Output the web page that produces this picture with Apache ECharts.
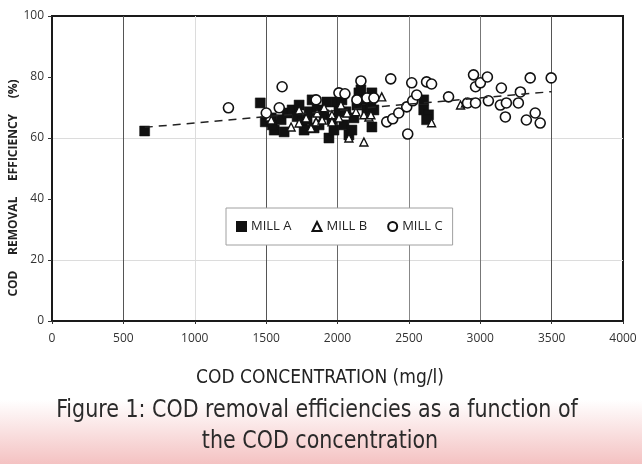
<!DOCTYPE html>
<html><head><meta charset="utf-8">
<script src="https://cdn.jsdelivr.net/npm/echarts@6/dist/echarts.min.js"></script>
<style>html,body{margin:0;padding:0;background:#fff}#c{width:642px;height:464px}</style>
</head><body><div id="c"></div>
<script>
const seriesNames = ['MILL A', 'MILL B', 'MILL C'];
const millA = [
  [649,62.3],[1459,71.5],[1494,65.3],[1536,66.6],[1557,62.6],[1543,64.3],[1605,66],[1626,62.0],
  [1647,68.2],[1682,69.2],[1717,67],[1731,70.8],[1752,65.3],[1766,62.6],[1787,66],[1801,68.6],
  [1822,72.5],[1836,63.3],[1857,69.2],[1871,64.3],[1906,67.6],[1926,71.8],[1940,60.0],[1961,66],
  [1975,62.6],[1996,71.8],[2010,68.6],[2031,72.5],[2045,64.3],[2059,68.6],[2080,61],[2101,62.6],
  [2115,66.6],[2136,70.8],[2150,74.8],[2164,75.8],[2185,72.5],[2206,69.2],[2234,69.9],[2241,74.8],
  [2255,69.2],[2241,63.6],[2604,72.5],[2604,69.2],[2638,67.6],[2624,66]
];
const millB = [
  [1522,66.9],[1536,65.9],[1675,63.6],[1731,69.2],[1731,64.9],[1780,66.6],[1815,63.3],[1850,65.3],
  [1857,68.2],[1892,65.9],[1906,69.9],[1961,67.6],[1961,65.3],[2010,66.6],[2024,70.8],[2066,68.2],
  [2080,60.0],[2129,68.6],[2185,67.6],[2185,58.7],[2220,66.9],[2234,67.6],[2310,73.5],[2659,65],
  [2862,70.8],[2897,71.5]
];
const millC = [
  [1236,69.9],[1501,68.2],[1592,69.9],[1612,76.8],[1850,72.5],[2010,74.8],[2052,74.5],[2164,78.7],
  [2136,72.5],[2206,73.1],[2255,73.1],[2373,79.4],[2345,65.3],[2387,66.3],[2429,68.2],[2485,70.2],
  [2527,72.2],[2555,74.1],[2492,61.3],[2520,78.1],[2624,78.4],[2659,77.7],[2778,73.5],[2911,71.5],
  [2967,71.5],[2953,80.7],[2967,76.8],[3001,78.1],[3050,80],[3057,72.2],[3148,76.4],[3141,70.8],
  [3183,71.5],[3176,66.9],[3267,71.5],[3281,75.1],[3350,79.7],[3323,65.9],[3385,68.2],[3420,64.9],
  [3497,79.7]
];
const trendLine = [[650,63.5],[3500,75.2]];
const xAxisTitle = 'COD CONCENTRATION (mg/l)';
const yAxisTitle = 'COD     REMOVAL     EFFICIENCY     (%)';
const figureTitle = ['Figure 1: COD removal efficiencies as a function of', 'the COD concentration'];

const narrow = "'Liberation Sans Narrow','DejaVu Sans Condensed',Roboto,sans-serif";
const chart = echarts.init(document.getElementById('c'));
chart.setOption({
  backgroundColor: '#fff',
  animation: false,
  grid: {left: 52, right: 19, top: 16, bottom: 143, show: true, borderColor: '#1a1a1a', borderWidth: 2, backgroundColor: 'transparent'},
  xAxis: {
    type: 'value', min: 0, max: 4000, interval: 500,
    axisLine: {show: true, lineStyle: {color: '#1a1a1a', width: 2}},
    axisTick: {show: true, length: 3, lineStyle: {color: '#333'}},
    axisLabel: {margin: 12, color: '#333', fontFamily: "'Open Sans'", fontSize: 12, formatter: v => String(v)},
    splitLine: {show: true, lineStyle: {width: 1, color: ['#1a1a1a','#555','#dcdcdc','#555','#666','#888','#777','#555','#1a1a1a']}}
  },
  yAxis: {
    type: 'value', min: 0, max: 100, interval: 20,
    axisLine: {show: true, lineStyle: {color: '#1a1a1a', width: 2}},
    axisTick: {show: true, length: 4, lineStyle: {color: '#333'}},
    axisLabel: {margin: 8, color: '#333', fontFamily: "'Open Sans'", fontSize: 12, formatter: v => String(v)},
    splitLine: {show: true, lineStyle: {width: 1, color: ['rgba(0,0,0,0)','#dcdcdc','rgba(0,0,0,0)','#dcdcdc','rgba(0,0,0,0)','rgba(0,0,0,0)']}}
  },
  legend: {
    left: 226, top: 208, orient: 'horizontal',
    backgroundColor: '#fff', borderColor: '#a0a0a0', borderWidth: 1,
    padding: [12, 10, 12, 10], itemGap: 20, itemWidth: 9, itemHeight: 9,
    textStyle: {color: '#222', fontFamily: "'Open Sans'", fontSize: 13},
    data: [
      {name: seriesNames[0], icon: 'rect'},
      {name: seriesNames[1], icon: 'triangle'},
      {name: seriesNames[2], icon: 'circle'}
    ]
  },
  series: [
    {name: seriesNames[0], type: 'scatter', data: millA, symbol: 'rect', symbolSize: 10,
     itemStyle: {color: '#111', borderColor: '#111', borderWidth: 0.5, opacity: 1}, z: 3},
    {name: seriesNames[1], type: 'scatter', data: millB, symbol: 'triangle', symbolSize: 8,
     itemStyle: {color: '#fff', borderColor: '#111', borderWidth: 1.4, opacity: 1}, z: 4},
    {name: seriesNames[2], type: 'scatter', data: millC, symbol: 'circle', symbolSize: 10,
     itemStyle: {color: '#fff', borderColor: '#111', borderWidth: 1.6, opacity: 1}, z: 4},
    {name: 'trend', type: 'line', data: trendLine, showSymbol: false, symbol: 'none', silent: true,
     lineStyle: {color: '#222', width: 1.5, type: [8, 6]}, z: 5}
  ],
  graphic: [
    {type: 'rect', left: 0, top: 400, z: -10, shape: {width: 642, height: 64},
     style: {fill: new echarts.graphic.LinearGradient(0, 0, 0, 1, [{offset: 0, color: '#ffffff'}, {offset: 1, color: '#f4c2c2'}])}},
    {type: 'text', x: 14, y: 188, rotation: Math.PI / 2, z: 10,
     style: {text: yAxisTitle, fill: '#222', font: "bold 12px 'Open Sans'", textAlign: 'center', textVerticalAlign: 'middle'}},
    {type: 'text', x: 320, y: 378, z: 10,
     style: {text: xAxisTitle, fill: '#222', font: "19px " + narrow, textAlign: 'center', textVerticalAlign: 'middle'}},
    {type: 'text', x: 317, y: 411, z: 10, scaleX: 0.955,
     style: {text: figureTitle[0], fill: '#2a2a2a', font: "24px " + narrow, textAlign: 'center', textVerticalAlign: 'middle'}},
    {type: 'text', x: 320, y: 442, z: 10, scaleX: 0.955,
     style: {text: figureTitle[1], fill: '#2a2a2a', font: "24px " + narrow, textAlign: 'center', textVerticalAlign: 'middle'}}
  ]
});
</script></body></html>
